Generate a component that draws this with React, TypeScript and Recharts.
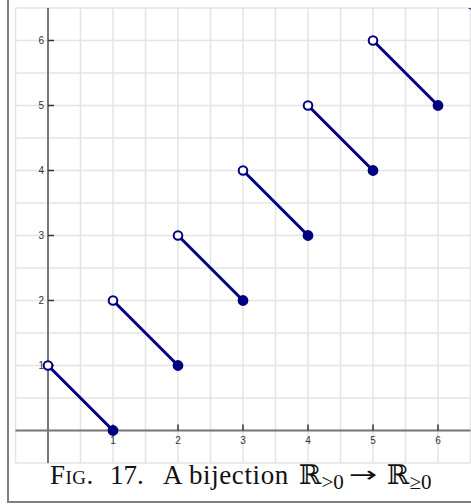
import React from 'react';
import { LineChart, Line, XAxis, YAxis, CartesianGrid, ReferenceLine, ReferenceDot } from 'recharts';

// Segment endpoints: open endpoint (startX, openY) -> closed endpoint (endX, closedY)
const startX = [0, 1, 2, 3, 4, 5, 6];
const openY = [1, 2, 3, 4, 5, 6, 7];
const endX = [1, 2, 3, 4, 5, 6, 7];
const closedY = [0, 1, 2, 3, 4, 5, 6];

const xTicks = [1, 2, 3, 4, 5, 6];
const yTicks = [1, 2, 3, 4, 5, 6];
const gridValues = [-0.5, 0, 0.5, 1, 1.5, 2, 2.5, 3, 3.5, 4, 4.5, 5, 5.5, 6, 6.5];
const domain = [-0.5, 6.5];

const NAVY = '#000080';
const AXIS = '#777777';
const TICK = '#333333';

const segments = startX.map((sx, i) => [
  { x: sx, y: openY[i], open: true },
  { x: endX[i], y: closedY[i], open: false },
]);

const EndDot = (props: any) => {
  const { cx, cy, payload, index } = props;
  if (cx == null || cy == null) return <g key={index} />;
  return (
    <circle
      key={index}
      cx={cx}
      cy={cy}
      r={payload.open ? 4.3 : 4.4}
      fill={payload.open ? '#ffffff' : NAVY}
      stroke={NAVY}
      strokeWidth={2}
    />
  );
};

const XTickShape = (label: number) => (props: any) => {
  const { cx, cy } = props;
  return (
    <g>
      <line x1={cx} y1={cy} x2={cx} y2={cy - 6} stroke={TICK} strokeWidth={1.5} />
      <text x={cx} y={cy + 13} textAnchor="middle" fontSize={10} fill={TICK} fontFamily="Liberation Sans, Arial, sans-serif">
        {label}
      </text>
    </g>
  );
};

const YTickShape = (label: number) => (props: any) => {
  const { cx, cy } = props;
  return (
    <g>
      <line x1={cx} y1={cy} x2={cx + 6} y2={cy} stroke={TICK} strokeWidth={1.5} />
      <text x={cx - 4} y={cy + 3.5} textAnchor="end" fontSize={10} fill={TICK} fontFamily="Liberation Sans, Arial, sans-serif">
        {label}
      </text>
    </g>
  );
};

const capStyle: React.CSSProperties = {
  position: 'absolute',
  top: 462,
  fontFamily: '"Liberation Serif", "DejaVu Serif", serif',
  fontSize: 27,
  lineHeight: 1,
  color: '#111',
  whiteSpace: 'nowrap',
};

const subStyle: React.CSSProperties = {
  fontSize: 21,
  position: 'relative',
  top: 5,
  fontFamily: '"Liberation Serif", "DejaVu Serif", serif',
};

export default function App() {
  return (
    <div style={{ position: 'absolute', left: 0, top: 0, width: 471, height: 504, overflow: 'hidden', background: '#fff' }}>
      <div
        style={{
          position: 'absolute',
          left: 7,
          top: -10,
          width: 500,
          height: 513,
          boxSizing: 'border-box',
          border: '2px solid #808080',
        }}
      />
      <div style={{ position: 'absolute', left: 0, top: 0 }}>
        <LineChart width={471} height={504} margin={{ top: 8, right: 0.5, bottom: 41, left: 15.5 }}>
          <CartesianGrid stroke="#e4e4e4" strokeWidth={1.5} horizontalValues={gridValues} verticalValues={gridValues} />
          <XAxis type="number" dataKey="x" domain={domain} hide allowDataOverflow />
          <YAxis type="number" dataKey="y" domain={domain} hide allowDataOverflow />
          <ReferenceLine y={0} stroke={AXIS} strokeWidth={2} />
          <ReferenceLine x={0} stroke={AXIS} strokeWidth={2} />
          {xTicks.map((t) => (
            <ReferenceDot key={'xt' + t} x={t} y={0} r={0} shape={XTickShape(t)} />
          ))}
          {yTicks.map((t) => (
            <ReferenceDot key={'yt' + t} x={0} y={t} r={0} shape={YTickShape(t)} />
          ))}
          {segments.map((seg, i) => (
            <Line
              key={'s' + i}
              data={seg}
              dataKey="y"
              type="linear"
              stroke={NAVY}
              strokeWidth={3}
              dot={EndDot}
              activeDot={false}
              isAnimationActive={false}
            />
          ))}
        </LineChart>
      </div>
      <span style={{ ...capStyle, left: 50, fontVariant: 'small-caps', letterSpacing: 0.5 }}>Fig.</span>
      <span style={{ ...capStyle, left: 110 }}>17.</span>
      <span style={{ ...capStyle, left: 163, letterSpacing: 0.6 }}>A bijection</span>
      <span style={{ ...capStyle, left: 299 }}>
        ℝ<span style={subStyle}>&gt;0</span>
      </span>
      <span
        style={{
          ...capStyle,
          left: 349,
          top: 464,
          fontFamily: '"DejaVu Sans", sans-serif',
          fontSize: 22,
          display: 'inline-block',
          transform: 'scaleX(1.55)',
          transformOrigin: 'left center',
        }}
      >
        →
      </span>
      <span style={{ ...capStyle, left: 387 }}>
        ℝ<span style={subStyle}>≥0</span>
      </span>
    </div>
  );
}
